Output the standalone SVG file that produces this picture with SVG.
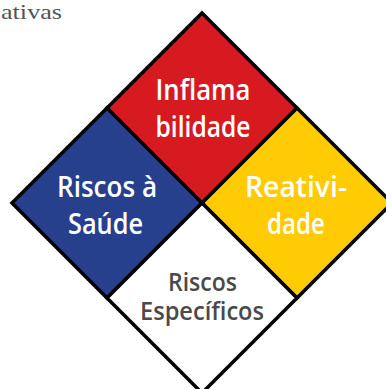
<svg xmlns="http://www.w3.org/2000/svg" width="386" height="389" viewBox="0 0 386 389">
<style>
.d{stroke:#000;stroke-width:3.5;stroke-linejoin:miter}
.t{font-family:"Open Sans","Noto Sans","Liberation Sans",sans-serif;font-weight:600;font-size:29px}
.w{fill:#fff}
.g{fill:#4a4a4a;font-size:25px}
</style>
<rect width="386" height="389" fill="#fff"/>
<text x="1" y="19" font-family="Liberation Serif,serif" font-size="22" fill="#555" textLength="61" lengthAdjust="spacingAndGlyphs">ativas</text>
<g id="red">
<polygon class="d" fill="#D71920" points="202,13 297,108 202,203 107,108"/>
<text class="t w" x="155.5" y="99.5" textLength="95" lengthAdjust="spacingAndGlyphs">Inflama</text>
<text class="t w" x="155.5" y="136.5" textLength="95" lengthAdjust="spacingAndGlyphs">bilidade</text>
</g>
<g id="blue">
<polygon class="d" fill="#26408E" points="107,108 202,203 107,298 12,203"/>
<text class="t w" x="57" y="197" textLength="100" lengthAdjust="spacingAndGlyphs">Riscos à</text>
<text class="t w" x="68" y="233.5" textLength="75" lengthAdjust="spacingAndGlyphs">Saúde</text>
</g>
<g id="yellow">
<polygon class="d" fill="#FFCB05" points="297,108 392,203 297,298 202,203"/>
<text class="t w" x="245" y="197" textLength="102" lengthAdjust="spacingAndGlyphs">Reativi-</text>
<text class="t w" x="267" y="233.5" textLength="58" lengthAdjust="spacingAndGlyphs">dade</text>
</g>
<g id="white">
<polygon class="d" fill="#fff" points="202,203 297,298 202,393 107,298"/>
<text class="t g" x="168" y="291" textLength="69" lengthAdjust="spacingAndGlyphs">Riscos</text>
<text class="t g" x="140" y="320" textLength="124" lengthAdjust="spacingAndGlyphs">Específicos</text>
</g>
<g id="connectors"></g>
</svg>
